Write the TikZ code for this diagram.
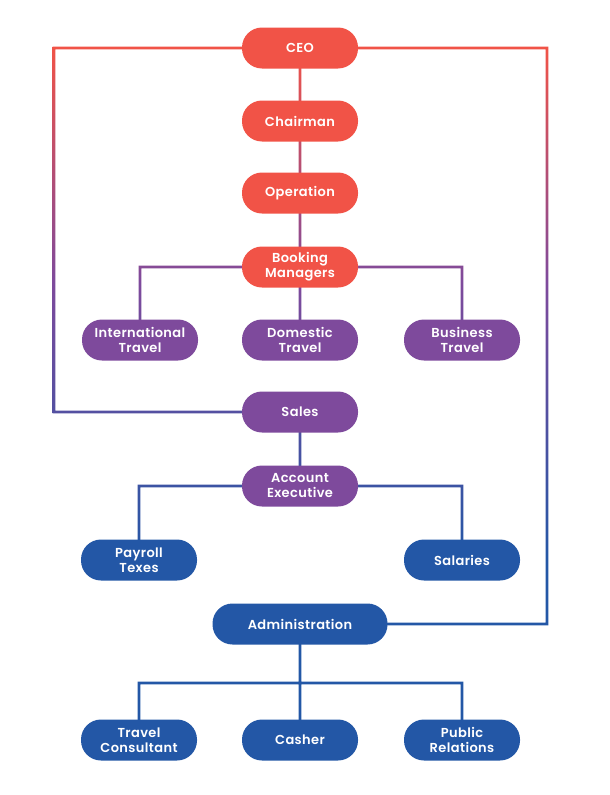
\documentclass[tikz,border=0pt]{standalone}
\usepackage{fontspec}
\setmainfont{Poppins}[UprightFont=* SemiBold, LetterSpace=3]
\usepackage{xcolor}
\usepackage{tikz}
\usetikzlibrary{backgrounds}

\definecolor{nodered}{HTML}{F15347}
\definecolor{nodepurple}{HTML}{7E4A9C}
\definecolor{nodeblue}{HTML}{2357A6}
\pgfdeclareverticalshading{linefade}{100bp}{color(0bp)=(nodeblue); color(38bp)=(nodeblue); color(58bp)=(nodepurple); color(75bp)=(nodered); color(100bp)=(nodered)}
\def\lw{1.3pt}

\begin{document}
\begin{tikzpicture}[x=1pt,y=-1pt,
	box/.style={rounded corners=20pt, minimum width=116pt, minimum height=41pt, inner sep=0pt, align=center, text=white, font=\fontsize{13}{15}\selectfont},
	redbox/.style={box, fill=nodered},
	purplebox/.style={box, fill=nodepurple},
	bluebox/.style={box, fill=nodeblue}]
		\useasboundingbox (0,0) rectangle (610,795);
		
		\node[redbox] (ceo) at (300,48) {CEO};
		\node[redbox] (chair) at (300,121) {Chairman};
		\node[redbox] (oper) at (300,193) {Operation};
		\node[redbox] (bkm) at (300,267) {Booking\\Managers};
		
		\node[purplebox] (intl) at (140,340) {International\\Travel};
		\node[purplebox] (dom) at (300,340) {Domestic\\Travel};
		\node[purplebox] (bus) at (462,340) {Business\\Travel};
		\node[purplebox] (sales) at (300,412) {Sales};
		\node[purplebox] (acc) at (300,486) {Account\\Executive};
		
		\node[bluebox] (pay) at (139,560) {Payroll\\Texes};
		\node[bluebox] (sal) at (462,560) {Salaries};
		\node[bluebox, minimum width=175pt] (admin) at (300,624) {Administration};
		\node[bluebox] (tcon) at (139,740) {Travel\\Consultant};
		\node[bluebox] (cash) at (300,740) {Casher};
		\node[bluebox] (pubr) at (462,740) {Public\\Relations};
		
		\coordinate (ltop) at (54,48);
		\coordinate (lbot) at (54,412);
		\coordinate (rtop) at (547,48);
		\coordinate (rbot) at (547,624);
		\coordinate (bkmL) at (bkm -| intl);
		\coordinate (bkmR) at (bkm -| bus);
		\coordinate (accL) at (acc -| pay);
		\coordinate (accR) at (acc -| sal);
		\coordinate (admC) at (300,683);
		\coordinate (admL) at (admC -| tcon);
		\coordinate (admR) at (admC -| pubr);
		
		% connectors, one shading for all of them
		\begin{scope}[on background layer]
			\shade[shading=linefade] foreach \a/\b in {ltop/ceo, ltop/lbot, lbot/sales, ceo/rtop, rtop/rbot, admin/rbot,
				ceo/chair, chair/oper, oper/bkm, bkm/dom, bkmL/bkmR, bkmL/intl, bkmR/bus,
				sales/acc, accL/accR, accL/pay, accR/sal,
				admin/admC, admL/admR, admL/tcon, admC/cash, admR/pubr}{
				([xshift=-\lw,yshift=\lw]\a.center) rectangle ([xshift=\lw,yshift=-\lw]\b.center)
			};
		\end{scope}
	\end{tikzpicture}
\end{document}
